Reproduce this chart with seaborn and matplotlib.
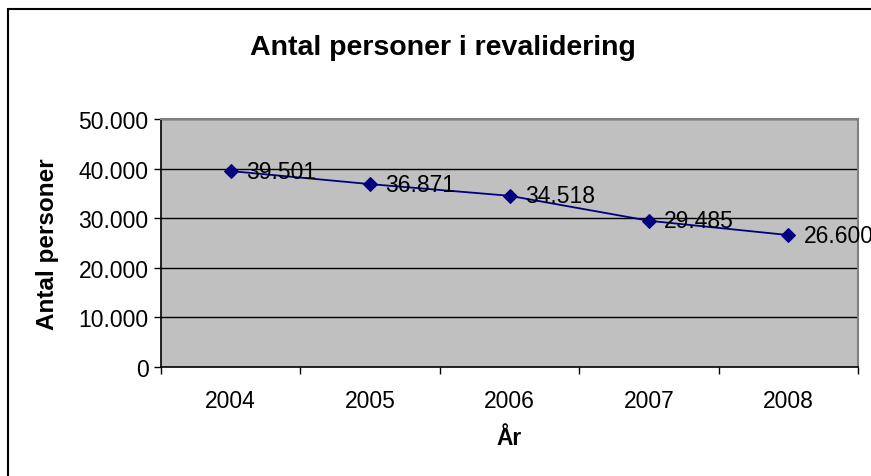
import numpy as np
import pandas as pd
import seaborn as sns
import matplotlib.pyplot as plt
from matplotlib.patches import Rectangle
from matplotlib.ticker import FuncFormatter

years = ['2004', '2005', '2006', '2007', '2008']
persons = [39501, 36871, 34518, 29485, 26600]
labels = ['39.501', '36.871', '34.518', '29.485', '26.600']

df = pd.DataFrame({'pos': np.arange(len(years)), 'persons': persons})

sns.set_theme(style='white')
plt.rcParams['font.family'] = ['Liberation Sans', 'DejaVu Sans']
plt.rcParams['text.color'] = 'black'
plt.rcParams['axes.labelcolor'] = 'black'
plt.rcParams['xtick.color'] = 'black'
plt.rcParams['ytick.color'] = 'black'

fig = plt.figure(figsize=(8.71, 4.77), dpi=100)
ax = fig.add_axes([161 / 871, 1 - 368 / 477, 697 / 871, 248 / 477])
ax.set_facecolor('#c0c0c0')

# outer chart frame (only left and top visible)
fig.patches.append(Rectangle((8 / 871, -0.2), 1.2, 1.2 - 10 / 477,
                             transform=fig.transFigure, fill=False,
                             edgecolor='black', linewidth=1.5))

ax.set_ylim(0, 50000)
ax.set_xlim(-0.5, 4.5)
ax.set_yticks(range(0, 50001, 10000))
ax.yaxis.set_major_formatter(FuncFormatter(lambda v, p: '0' if v == 0 else f'{int(v):,}'.replace(',', '.')))
for v in range(10000, 50001, 10000):
    ax.axhline(v, color='black', linewidth=1, zorder=1)

sns.lineplot(data=df, x='pos', y='persons', marker='D', markersize=7.5,
             color='#000080', markeredgecolor='#000080', linewidth=1.3, ax=ax, zorder=3)

# data labels (last one runs off the edge, as in the original)
for i, (v, t) in enumerate(zip(persons, labels)):
    ax.annotate(t, (i, v), xytext=(11, 0), textcoords='offset points',
                ha='left', va='center', fontsize=16.5, color='black',
                annotation_clip=False, zorder=4)

ax.set_xticks(np.arange(-0.5, 5, 1))
ax.set_xticklabels([])
ax.set_xticks(np.arange(len(years)), minor=True)
ax.set_xticklabels(years, minor=True, fontsize=16.5)
ax.tick_params(axis='x', which='minor', length=0, pad=16)
ax.tick_params(axis='x', which='major', direction='out', length=5, width=1, color='black', bottom=True)
ax.tick_params(axis='y', direction='out', length=5, width=1, color='black', left=True, labelsize=16.5, pad=4)

for s in ['left', 'bottom']:
    ax.spines[s].set_color('black')
    ax.spines[s].set_linewidth(1.2)
for s in ['top', 'right']:
    ax.spines[s].set_color('#808080')
    ax.spines[s].set_linewidth(1.5)
    ax.spines[s].set_visible(True)

ax.set_xlabel('År', fontsize=16.5, fontweight='bold', labelpad=10)
ax.set_ylabel('Antal personer', fontsize=17.5, fontweight='bold', labelpad=14)
fig.text(443 / 871, 1 - 48 / 477, 'Antal personer i revalidering',
         ha='center', va='center', fontsize=20.5, fontweight='bold')

fig.savefig('out.png', dpi=100)
